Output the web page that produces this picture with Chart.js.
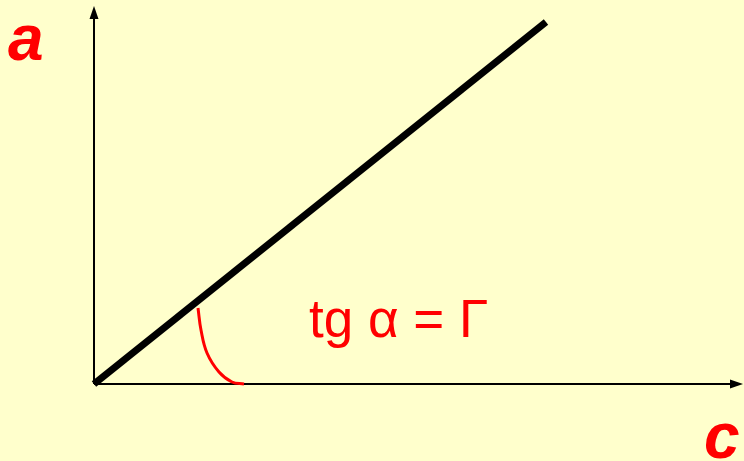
<!DOCTYPE html>
<html>
<head>
<meta charset="utf-8">
<script src="https://cdn.jsdelivr.net/npm/chart.js@4.4.0/dist/chart.umd.min.js"></script>
<style>
  html, body { margin: 0; padding: 0; background: #ffffcc; }
  #chart { display: block; }
</style>
</head>
<body>
<canvas id="chart" width="744" height="461"></canvas>
<script>
// straight line a = Γ·c (1 unit = 100 px)
const lineX = [0, 4.52];
const lineY = [0, 3.62];

// the angle arc near the origin
const arcX = [1.04, 1.07, 1.13, 1.25, 1.38, 1.5];
const arcY = [0.76, 0.54, 0.31, 0.12, 0.02, 0];

const xMax = 6.49;
const yMax = 3.78;

const labelY = "a";
const labelX = "c";
const formula = "tg α = Γ";

const toPoints = (xs, ys) => xs.map((x, i) => ({ x: x, y: ys[i] }));

const axesPlugin = {
  id: "axes",
  beforeDatasetsDraw(chart) {
    const { ctx, scales } = chart;
    const x0 = scales.x.getPixelForValue(0);
    const y0 = scales.y.getPixelForValue(0);
    const xEnd = scales.x.getPixelForValue(xMax);
    const yEnd = scales.y.getPixelForValue(yMax);
    ctx.save();
    ctx.fillStyle = "#ffffcc";
    ctx.fillRect(0, 0, chart.width, chart.height);
    ctx.strokeStyle = "#000";
    ctx.fillStyle = "#000";
    ctx.lineWidth = 2;
    ctx.beginPath();
    ctx.moveTo(x0, y0);
    ctx.lineTo(x0, yEnd + 10);
    ctx.moveTo(x0, y0);
    ctx.lineTo(xEnd - 10, y0);
    ctx.stroke();
    // arrow heads
    ctx.beginPath();
    ctx.moveTo(x0, yEnd);
    ctx.lineTo(x0 - 4.5, yEnd + 13);
    ctx.lineTo(x0 + 4.5, yEnd + 13);
    ctx.closePath();
    ctx.fill();
    ctx.beginPath();
    ctx.moveTo(xEnd, y0);
    ctx.lineTo(xEnd - 13, y0 - 4.5);
    ctx.lineTo(xEnd - 13, y0 + 4.5);
    ctx.closePath();
    ctx.fill();
    ctx.restore();
  },
  afterDatasetsDraw(chart) {
    const { ctx } = chart;
    ctx.save();
    ctx.fillStyle = "#ff0000";
    ctx.textBaseline = "alphabetic";
    ctx.font = "italic bold 64px 'Liberation Sans', Arial, sans-serif";
    ctx.fillText(labelY, 8, 60);
    ctx.fillText(labelX, 704, 458);
    ctx.font = "53px 'Liberation Sans', Arial, sans-serif";
    ctx.fillText(formula, 309, 337);
    ctx.restore();
  }
};

new Chart(document.getElementById("chart"), {
  type: "scatter",
  data: {
    datasets: [
      {
        data: toPoints(lineX, lineY),
        showLine: true,
        borderColor: "#000",
        borderWidth: 7,
        borderCapStyle: "butt",
        pointRadius: 0,
        clip: false
      },
      {
        data: toPoints(arcX, arcY),
        showLine: true,
        borderColor: "#ff0000",
        borderWidth: 3,
        tension: 0.4,
        pointRadius: 0,
        clip: false
      }
    ]
  },
  options: {
    responsive: false,
    animation: false,
    layout: { padding: { left: 94, right: 1, top: 6, bottom: 77 } },
    plugins: { legend: { display: false }, tooltip: { enabled: false } },
    scales: {
      x: { type: "linear", display: false, min: 0, max: xMax },
      y: { type: "linear", display: false, min: 0, max: yMax }
    }
  },
  plugins: [axesPlugin]
});
</script>
</body>
</html>
